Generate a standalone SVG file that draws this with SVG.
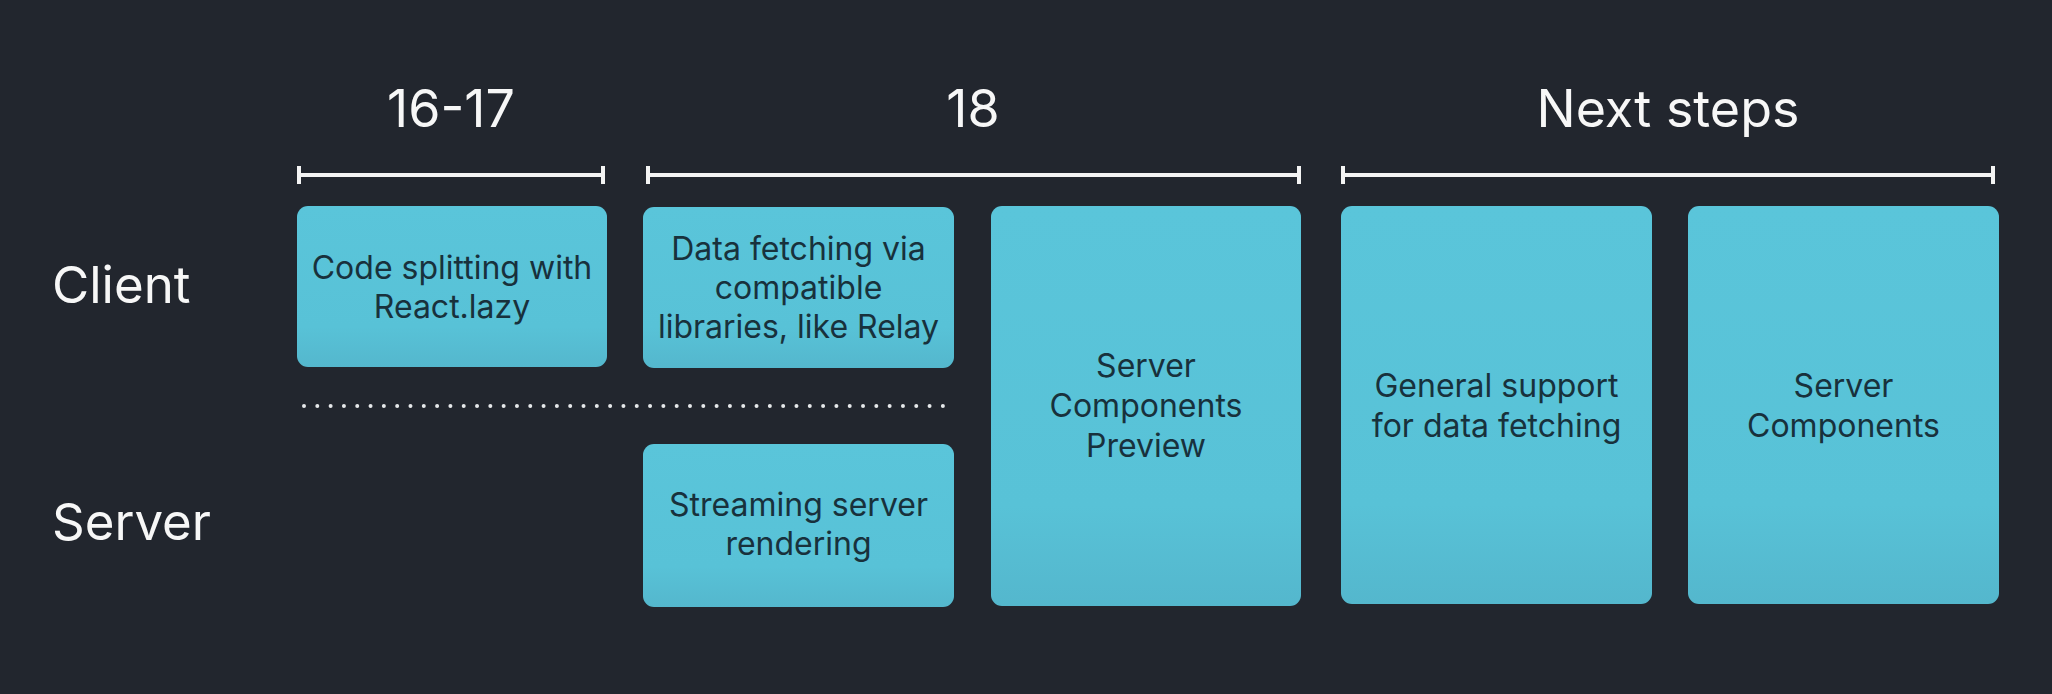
<svg xmlns="http://www.w3.org/2000/svg" width="2052" height="694" viewBox="0 0 2052 694">
  <defs>
    <linearGradient id="boxGrad" x1="0" y1="0" x2="0" y2="1">
      <stop offset="0" stop-color="#5ac5da"/>
      <stop offset="0.75" stop-color="#58c2d7"/>
      <stop offset="1" stop-color="#54b7cd"/>
    </linearGradient>
    <style>
      .box { fill: url(#boxGrad); }
      .btxt { font-family: Inter, "Noto Sans", "Liberation Sans", sans-serif; font-size: 32px; fill: #18313c; text-anchor: middle; }
      .head { font-family: Inter, "Noto Sans", "Liberation Sans", sans-serif; font-size: 52px; fill: #f7f7f7; text-anchor: middle; }
      .side { font-family: Inter, "Noto Sans", "Liberation Sans", sans-serif; font-size: 51px; fill: #f7f7f7; }
      .brk { stroke: #f4f4f4; stroke-width: 4; fill: none; }
      .dots { stroke: #e6e8ea; stroke-width: 4; stroke-linecap: round; stroke-dasharray: 0 13.31; fill: none; }
    </style>
  </defs>
  <rect x="0" y="0" width="2052" height="694" fill="#22262e"/>

  <g id="headings">
    <text class="head" x="451" y="127">16-17</text>
    <text class="head" x="973" y="127">18</text>
    <text class="head" x="1668" y="127">Next steps</text>
    <text class="side" x="52" y="303">Client</text>
    <text class="side" x="52" y="540">Server</text>
  </g>

  <g id="connectors">
    <path class="brk" d="M297 175H605M299 166V184M603 166V184"/>
    <path class="brk" d="M646 175H1301M648 166V184M1299 166V184"/>
    <path class="brk" d="M1341 175H1995M1343 166V184M1993 166V184"/>
    <line class="dots" x1="304" y1="406" x2="944" y2="406"/>
  </g>

  <g id="node-code-splitting">
    <rect class="box" x="297" y="206" width="310" height="161" rx="11"/>
    <text class="btxt" x="452" y="279">Code splitting with</text>
    <text class="btxt" x="452" y="318">React.lazy</text>
  </g>

  <g id="node-data-fetching">
    <rect class="box" x="643" y="207" width="311" height="161" rx="11"/>
    <text class="btxt" x="798.5" y="260">Data fetching via</text>
    <text class="btxt" x="798.5" y="299">compatible</text>
    <text class="btxt" x="798.5" y="338">libraries, like Relay</text>
  </g>

  <g id="node-streaming">
    <rect class="box" x="643" y="444" width="311" height="163" rx="11"/>
    <text class="btxt" x="798.5" y="516">Streaming server</text>
    <text class="btxt" x="798.5" y="555">rendering</text>
  </g>

  <g id="node-server-components-preview">
    <rect class="box" x="991" y="206" width="310" height="400" rx="11"/>
    <text class="btxt" x="1146" y="377">Server</text>
    <text class="btxt" x="1146" y="417">Components</text>
    <text class="btxt" x="1146" y="457">Preview</text>
  </g>

  <g id="node-general-support">
    <rect class="box" x="1341" y="206" width="311" height="398" rx="11"/>
    <text class="btxt" x="1496.5" y="397">General support</text>
    <text class="btxt" x="1496.5" y="437">for data fetching</text>
  </g>

  <g id="node-server-components">
    <rect class="box" x="1688" y="206" width="311" height="398" rx="11"/>
    <text class="btxt" x="1843.5" y="397">Server</text>
    <text class="btxt" x="1843.5" y="437">Components</text>
  </g>
</svg>
